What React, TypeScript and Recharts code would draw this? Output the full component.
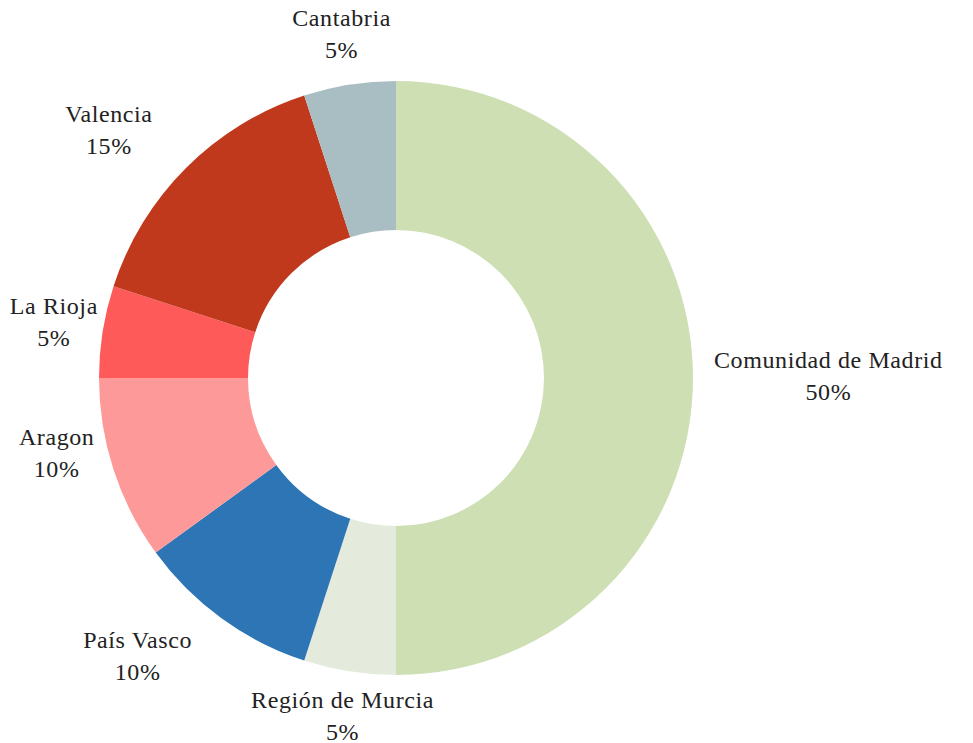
import { PieChart, Pie, Cell } from "recharts";

const REGIONS = [
  "Comunidad de Madrid",
  "Región de Murcia",
  "País Vasco",
  "Aragon",
  "La Rioja",
  "Valencia",
  "Cantabria",
];
const SHARES = [50, 5, 10, 10, 5, 15, 5];
const COLORS = [
  "#cddfb3",
  "#e4ebdd",
  "#2e75b6",
  "#fe9999",
  "#fe5a5a",
  "#c0391c",
  "#a8bec3",
];

// the original labels were hand-placed a bit; small per-label offsets (px)
const LABEL_NUDGE = [
  [2, -2],
  [-4, -6],
  [-18, -4],
  [-1, -33],
  [14, -2],
  [-20, -2],
  [-5, 0],
];

const data = REGIONS.map((name, i) => ({ name, value: SHARES[i] }));

const RAD = Math.PI / 180;
const FONT = '"Liberation Serif", "Times New Roman", serif';
const FONT_SIZE = 24;
const SPACING = 0.6;
const LINE = 32;

let ctx: CanvasRenderingContext2D | null = null;
function textWidth(s: string) {
  if (!ctx) {
    ctx = document.createElement("canvas").getContext("2d");
  }
  if (!ctx) return s.length * FONT_SIZE * 0.5;
  ctx.font = `${FONT_SIZE}px ${FONT}`;
  return ctx.measureText(s).width + SPACING * s.length;
}

// Excel style: two lines centred in a box that sits outside the rim
function renderLabel(props: any) {
  const { cx, cy, midAngle, outerRadius, name, value, index } = props;
  const r = outerRadius + 19;
  const cos = Math.cos(-midAngle * RAD);
  const sin = Math.sin(-midAngle * RAD);
  const [nx, ny] = LABEL_NUDGE[index] || [0, 0];
  const ax = cx + r * cos + nx;
  const ay = cy + r * sin + ny;
  const w = textWidth(name);
  const x = cos > 0.35 ? ax + w / 2 : cos < -0.35 ? ax - w / 2 : ax;
  const yc = ay + sin * LINE;
  return (
    <text
      x={x}
      y={yc}
      textAnchor="middle"
      fill="#222"
      style={{ fontFamily: FONT, fontSize: FONT_SIZE, letterSpacing: SPACING }}
    >
      <tspan x={x} dy={-LINE / 2 + 8}>
        {name}
      </tspan>
      <tspan x={x} dy={LINE}>
        {value}%
      </tspan>
    </text>
  );
}

export default function App() {
  return (
    <PieChart
      width={957}
      height={735}
      margin={{ top: 0, right: 0, bottom: 0, left: 0 }}
      style={{ fontFamily: FONT }}
    >
      <Pie
        data={data}
        dataKey="value"
        nameKey="name"
        cx={388}
        cy={370}
        innerRadius={148}
        outerRadius={297}
        startAngle={90}
        endAngle={-270}
        stroke="none"
        label={renderLabel}
        labelLine={false}
        isAnimationActive={false}
      >
        {data.map((d, i) => (
          <Cell key={d.name} fill={COLORS[i]} />
        ))}
      </Pie>
    </PieChart>
  );
}
